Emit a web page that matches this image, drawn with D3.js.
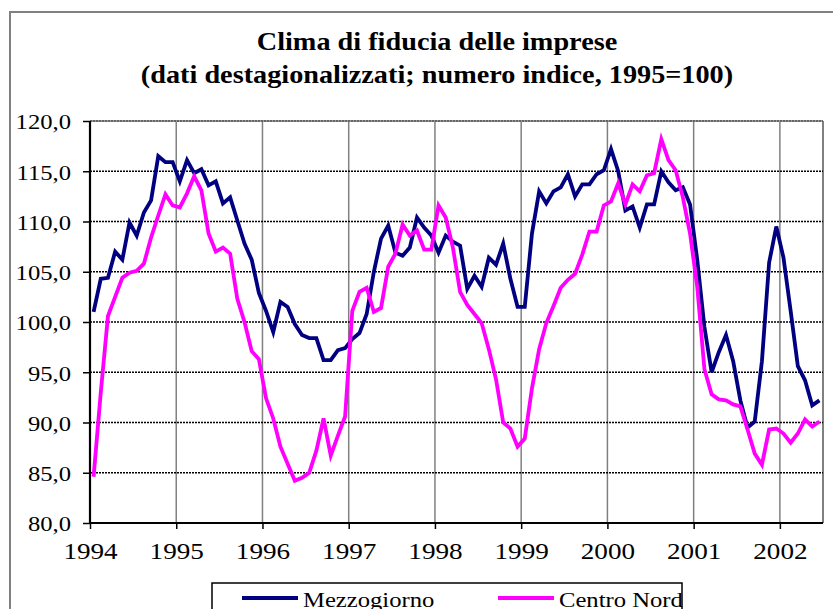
<!DOCTYPE html>
<html>
<head>
<meta charset="utf-8">
<script src="https://cdn.jsdelivr.net/npm/d3@7"></script>
<style>
body { margin: 0; background: #fff; }
text { font-family: "Liberation Serif", "Times New Roman", serif; fill: #000; }
</style>
</head>
<body>
<svg id="chart" width="833" height="609"></svg>
<script>
var titleLines = ["Clima di fiducia delle imprese",
    "(dati destagionalizzati; numero indice, 1995=100)"];

var years = [1994, 1995, 1996, 1997, 1998, 1999, 2000, 2001, 2002];
var yTicks = [80, 85, 90, 95, 100, 105, 110, 115, 120];

var seriesNames = ["Mezzogiorno", "Centro Nord"];
var seriesColors = ["#000080", "#ff00ff"];

// monthly, gen 1994 - giu 2002
var mezzogiorno = [
    101.0, 104.3, 104.4, 107.0, 106.2, 109.9, 108.6, 110.9, 112.1, 116.5, 115.9, 115.9,
    114.0, 116.1, 114.8, 115.2, 113.6, 114.0, 111.8, 112.4, 110.1, 107.8, 106.2, 102.9,
    101.1, 99.0, 102.0, 101.5, 99.8, 98.7, 98.4, 98.4, 96.2, 96.2, 97.2, 97.4,
    98.3, 98.9, 100.8, 105.0, 108.3, 109.6, 106.9, 106.6, 107.4, 110.4, 109.4, 108.6,
    106.9, 108.6, 108.0, 107.6, 103.3, 104.6, 103.5, 106.4, 105.7, 107.8, 104.3, 101.5,
    101.5, 108.8, 113.0, 111.8, 113.0, 113.4, 114.7, 112.5, 113.7, 113.7, 114.7, 115.1,
    117.2, 115.0, 111.1, 111.5, 109.4, 111.7, 111.7, 115.0, 113.9, 113.1, 113.4, 111.7,
    106.2, 99.5, 95.0, 97.0, 98.7, 96.1, 92.2, 89.5, 90.1, 96.1, 105.9, 109.5,
    106.4, 101.1, 95.6, 94.2, 91.7, 92.2
];
var centroNord = [
    84.6, 93.0, 100.6, 102.5, 104.4, 104.9, 105.1, 105.8, 108.4, 110.6, 112.7, 111.6,
    111.4, 112.8, 114.5, 113.1, 108.8, 107.0, 107.4, 106.8, 102.3, 100.0, 97.1, 96.3,
    92.4, 90.4, 87.6, 85.9, 84.2, 84.5, 85.0, 87.2, 90.4, 86.7, 88.7, 90.6,
    101.1, 103.0, 103.4, 101.0, 101.4, 105.5, 106.8, 109.7, 108.6, 109.1, 107.2, 107.2,
    111.6, 110.4, 107.4, 103.0, 101.7, 100.8, 99.9, 97.3, 94.3, 90.0, 89.4, 87.6,
    88.4, 93.4, 97.3, 99.9, 101.6, 103.4, 104.2, 104.8, 106.7, 109.0, 109.0, 111.6,
    112.0, 113.8, 111.7, 113.7, 113.0, 114.6, 114.8, 118.2, 116.1, 115.1, 112.4, 108.8,
    103.5, 95.3, 92.8, 92.3, 92.2, 91.8, 91.6, 89.3, 86.9, 85.8, 89.3, 89.4,
    88.9, 88.0, 88.9, 90.3, 89.6, 90.1
];

var months = mezzogiorno.map(function(d, i) {
    return (years[0] + Math.floor(i / 12)) + "-" + (i % 12 + 1);
});

var svg = d3.select("#chart");
var plotL = 90, plotR = 823, plotT = 121, plotB = 523;
var serif = '"Liberation Serif", "Times New Roman", serif';

var itFormat = d3.formatLocale({decimal: ",", thousands: ".", grouping: [3], currency: ["", "€"]}).format(".1f");

// the original glyphs are drawn a bit wider than Times
function stretch(sel, k) {
    sel.each(function() {
        var l = this.getComputedTextLength();
        d3.select(this).attr("textLength", l * k).attr("lengthAdjust", "spacingAndGlyphs");
    });
}

// outer frame of the chart
svg.append("rect")
    .attr("x", 10).attr("y", 12)
    .attr("width", 840).attr("height", 620)
    .style("fill", "none").style("stroke", "#808080").style("stroke-width", 2);

var x = d3.scaleBand().domain(months).range([plotL, plotR]);
var xYear = d3.scaleLinear()
    .domain([years[0], years[0] + months.length / 12])
    .range([plotL, plotR]);
var y = d3.scaleLinear().domain([80, 120]).range([plotB, plotT]);

// vertical grid
svg.append("g").selectAll("line")
    .data(years.slice(1))
    .enter().append("line")
    .attr("x1", function(d) { return xYear(d); })
    .attr("x2", function(d) { return xYear(d); })
    .attr("y1", plotT).attr("y2", plotB)
    .style("stroke", "#808080").style("stroke-width", 1.5);

svg.append("line")
    .attr("x1", plotR).attr("x2", plotR).attr("y1", plotT).attr("y2", plotB)
    .style("stroke", "#808080").style("stroke-width", 2);
svg.append("line")
    .attr("x1", plotL).attr("x2", plotR).attr("y1", plotT).attr("y2", plotT)
    .style("stroke", "#9a9a9a").style("stroke-width", 2);

// horizontal grid
svg.append("g").selectAll("line")
    .data(yTicks.slice(1))
    .enter().append("line")
    .attr("x1", plotL).attr("x2", plotR)
    .attr("y1", function(d) { return y(d); })
    .attr("y2", function(d) { return y(d); })
    .style("stroke", function(d) { return d == 120 ? "#555" : "#000"; })
    .style("stroke-width", 1.3)
    .style("stroke-dasharray", "2,1");

// series
var line = d3.line()
    .x(function(d, i) { return x(months[i]) + x.bandwidth() / 2; })
    .y(function(d) { return y(d); });

[mezzogiorno, centroNord].forEach(function(s, k) {
    svg.append("path")
        .datum(s)
        .attr("d", line)
        .style("fill", "none")
        .style("stroke", seriesColors[k])
        .style("stroke-width", 3.8)
        .style("stroke-linejoin", "miter");
});

// axes
var yAxis = svg.append("g")
    .attr("transform", "translate(" + plotL + ",0)")
    .call(d3.axisLeft(y).tickValues(yTicks).tickSize(7).tickPadding(12).tickFormat(itFormat));
yAxis.select(".domain").remove();
yAxis.selectAll(".tick line").style("stroke", "#000").style("stroke-width", 1.5);
yAxis.selectAll("text")
    .style("font-size", "22px")
    .style("font-family", serif)
    .attr("dy", "0.36em");
stretch(yAxis.selectAll("text"), 1.12);

var xAxis = svg.append("g")
    .attr("transform", "translate(0," + plotB + ")")
    .call(d3.axisBottom(xYear).tickValues(years).tickSize(6).tickPadding(14).tickFormat(function(d) { return d; }));
xAxis.select(".domain").remove();
xAxis.selectAll(".tick line").style("stroke", "#000").style("stroke-width", 1.5);
xAxis.selectAll("text")
    .style("font-size", "23px")
    .style("font-family", serif);
stretch(xAxis.selectAll("text"), 1.18);

svg.append("line")
    .attr("x1", plotL).attr("x2", plotL).attr("y1", plotT).attr("y2", plotB + 1)
    .style("stroke", "#000").style("stroke-width", 2.2);
svg.append("line")
    .attr("x1", plotL - 1).attr("x2", plotR).attr("y1", plotB).attr("y2", plotB)
    .style("stroke", "#000").style("stroke-width", 2.2);

// title
var title = svg.append("g").selectAll("text")
    .data(titleLines)
    .enter().append("text")
    .attr("x", 437)
    .attr("y", function(d, i) { return 50 + i * 33; })
    .attr("text-anchor", "middle")
    .style("font-family", serif)
    .style("font-size", "25px")
    .style("font-weight", "bold")
    .text(function(d) { return d; });
stretch(title, 1.13);

// legend
svg.append("rect")
    .attr("x", 212).attr("y", 583)
    .attr("width", 470).attr("height", 60)
    .style("fill", "#fff").style("stroke", "#000").style("stroke-width", 1.5);

var legend = svg.append("g").selectAll("g")
    .data(seriesNames)
    .enter().append("g")
    .attr("transform", function(d, i) { return "translate(" + (242 + i * 256) + ",598)"; });
legend.append("line")
    .attr("x1", 0).attr("x2", 56)
    .style("stroke", function(d, i) { return seriesColors[i]; })
    .style("stroke-width", 3.8);
legend.append("text")
    .attr("x", 61).attr("y", 9)
    .style("font-family", serif)
    .style("font-size", "22px")
    .text(function(d) { return d; });
stretch(legend.selectAll("text"), 1.12);
</script>
</body>
</html>
